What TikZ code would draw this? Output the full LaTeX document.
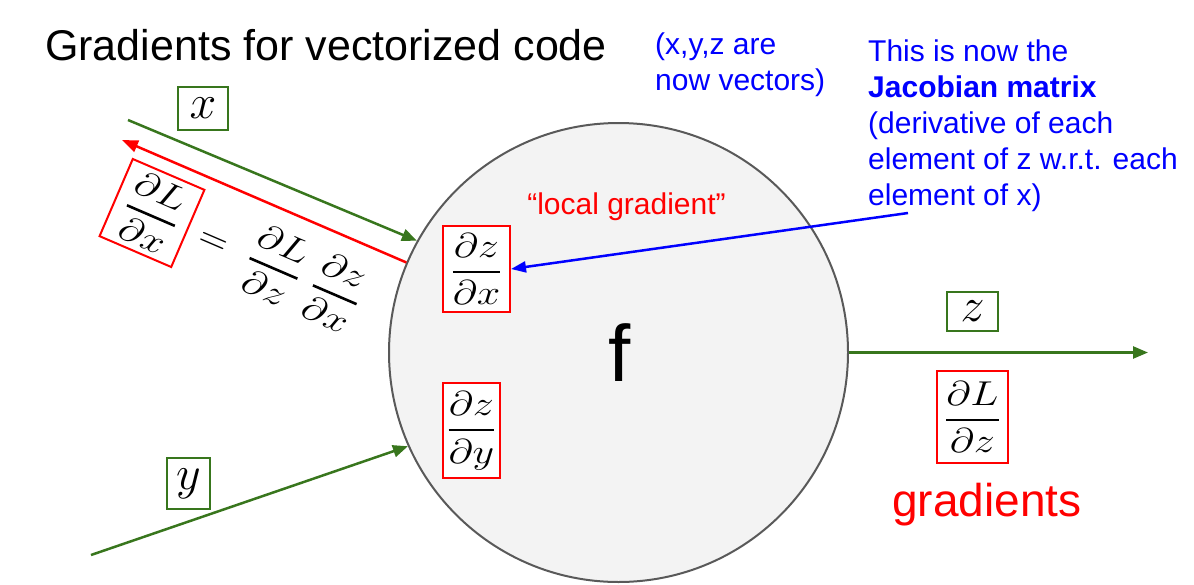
\RequirePackage{fix-cm}
\documentclass[tikz,border=0pt]{standalone}
\usepackage{amsmath}
\usepackage{graphicx}
\usepackage{fontspec}
\setmainfont{Liberation Sans}
\usetikzlibrary{arrows.meta}
\definecolor{dgreen}{HTML}{38761D}
\definecolor{fgray}{HTML}{F3F3F3}
\definecolor{egray}{HTML}{595959}
\newcommand{\mfrac}[2]{\scalebox{1.22}[1]{$\genfrac{}{}{2.6pt}{0}{#1}{#2}$}}
\begin{document}
\begin{tikzpicture}[x=1pt,y=-1pt,
  mathfont/.style={font=\fontsize{34.5}{40}\selectfont},
  eqfont/.style={font=\fontsize{40}{46}\selectfont},
  varfont/.style={font=\fontsize{48}{54}\selectfont},
  redbox/.style={draw=red, line width=2pt, fill=white, inner sep=0pt, mathfont},
  greenbox/.style={draw=dgreen, line width=2pt, fill=white, inner sep=0pt, varfont},
  garrow/.style={draw=dgreen, line width=2.5pt, -{Triangle[length=15pt,width=12pt]}},
  rarrow/.style={draw=red, line width=2.5pt, -{Triangle[length=16pt,width=12pt]}},
  barrow/.style={draw=blue, line width=2.5pt, -{Triangle[length=15pt,width=11pt]}},
  bluetext/.style={text=blue, align=left, inner sep=0pt, anchor=base west, font=\fontsize{30}{36}\selectfont}]
\useasboundingbox (0,0) rectangle (1194,584);
% main circle
\node[circle, draw=egray, line width=2pt, fill=fgray, minimum size=459pt, inner sep=0pt] (f) at (618.5,352.5) {};
\node[anchor=base, inner sep=0pt, font=\fontsize{80}{90}\selectfont] (flabel) at (620,381) {f};
% texts (base anchor = baseline of the last line)
\node[anchor=base west, inner sep=0pt, font=\fontsize{43}{50}\selectfont] (title) at (45,60) {Gradients for vectorized code};
\node[bluetext] (note) at (655,90) {(x,y,z are\\now vectors)};
\node[bluetext] (jac) at (868,205) {This is now the\\\textbf{Jacobian matrix}\\(derivative of each\\element of z w.r.t. each\\element of x)};
\node[anchor=base, inner sep=0pt, text=red, font=\fontsize{30}{36}\selectfont] (local) at (626.5,214) {“local gradient”};
\node[anchor=base, inner sep=0pt, text=red, font=\fontsize{46}{54}\selectfont] (grads) at (987,516) {gradients};
% free ends
\coordinate (xs) at (128,120);
\coordinate (rs) at (122,140);
\coordinate (ys) at (91,555);
\coordinate (ze) at (1148,352.5);
\coordinate (bs) at (908,213);
% math boxes
\node[redbox, minimum width=67pt, minimum height=86pt] (dzdx) at (476.5,269) {\mfrac{\partial z}{\partial x}};
\node[redbox, minimum width=57pt, minimum height=95pt] (dzdy) at (471.5,430.5) {\mfrac{\partial z}{\partial y}};
\node[redbox, minimum width=71pt, minimum height=92pt] (dLdz) at (972.5,417) {\mfrac{\partial L}{\partial z}};
\node[greenbox, minimum width=50pt, minimum height=43pt] (xb) at (203,108.5) {$x$};
\node[greenbox, minimum width=51pt, minimum height=39pt] (zb) at (972.5,311.5) {$z$};
\node[greenbox, minimum width=43pt, minimum height=51pt] (yb) at (188.5,483.5) {$y$};
\node[redbox, rotate=-23.3, minimum width=78pt, minimum height=84pt] (dLdx) at (152,213) {\mfrac{\partial L}{\partial x}};
\node[rotate=-23.3, anchor=west, inner sep=0pt, mathfont] (eq) at (dLdx.east) {\hspace*{13pt}{\fontsize{40}{46}\selectfont$=$}\hspace*{24pt}\mfrac{\partial L}{\partial z}\hspace*{14pt}\mfrac{\partial z}{\partial x}};
% connectors
\draw[garrow] (xs) -- (f.151);
\draw[rarrow] (f.157) -- (rs);
\draw[garrow] (ys) -- (f.204.6);
\draw[garrow] (f.east) -- (ze);
\draw[barrow] (bs) -- (dzdx.east);
\end{tikzpicture}
\end{document}
